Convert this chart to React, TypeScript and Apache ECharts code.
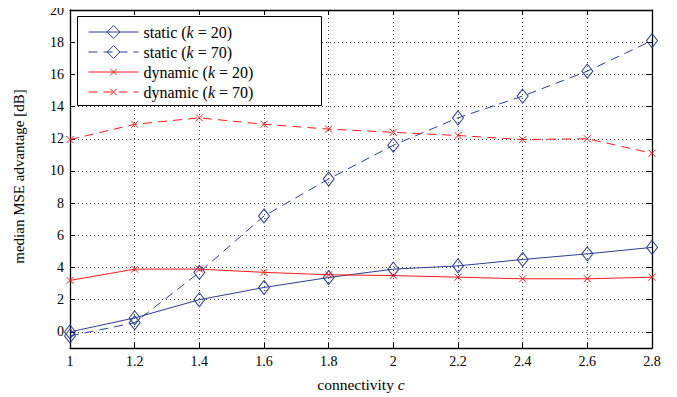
import React, { useEffect, useRef } from "react";
import * as echarts from "echarts";

const connectivity = [1, 1.2, 1.4, 1.6, 1.8, 2, 2.2, 2.4, 2.6, 2.8];
const static20 = [0.0, 0.87, 2.0, 2.76, 3.38, 3.9, 4.1, 4.5, 4.85, 5.25];
const static70 = [-0.25, 0.57, 3.7, 7.2, 9.5, 11.6, 13.3, 14.65, 16.2, 18.1];
const dynamic20 = [3.2, 3.9, 3.9, 3.7, 3.55, 3.5, 3.4, 3.3, 3.3, 3.4];
const dynamic70 = [11.95, 12.9, 13.3, 12.9, 12.6, 12.4, 12.2, 11.95, 12.0, 11.1];
const yTicks = [0, 2, 4, 6, 8, 10, 12, 14, 16, 18, 20];
const seriesNames = ["static (k = 20)", "static (k = 70)", "dynamic (k = 20)", "dynamic (k = 70)"];

const BLUE = "#2b3f96";
const RED = "#ff1a1a";
const FONT = "Liberation Serif";
const CROSS = "path://M-5,-5M15,15M0,0L10,10M10,0L0,10";

export default function App() {
  const ref = useRef<HTMLDivElement>(null);
  useEffect(() => {
    if (!ref.current) return;
    const chart = echarts.init(ref.current, null, { renderer: "svg" });
    const pts = (ys: number[]) => connectivity.map((x, i) => [x, ys[i]]);
    const diamond = {
      symbol: "diamond",
      symbolSize: [11, 14],
      itemStyle: { color: "rgba(0,0,0,0)", borderColor: BLUE, borderWidth: 1 },
    };
    const cross = {
      symbol: CROSS,
      symbolSize: 14,
      itemStyle: { color: "rgba(0,0,0,0)", borderColor: RED, borderWidth: 1 },
    };
    const dash = [9, 6];
    const axisLine = { show: true, onZero: false, lineStyle: { color: "#000", width: 1.3 } };
    const gridLine = { show: true, lineStyle: { color: "#444", type: [1, 3], width: 1 } };
    const rich = (size: number) => ({
      a: { fontFamily: FONT, fontSize: size, color: "#000", lineHeight: 16 },
      e: { fontFamily: FONT, fontSize: size, color: "#000", lineHeight: 16, padding: [0, 4, 0, 4] },
      i: { fontFamily: FONT, fontSize: size, color: "#000", fontStyle: "italic", lineHeight: 16 },
    });
    chart.setOption({
      animation: false,
      backgroundColor: "#fff",
      textStyle: { fontFamily: FONT },
      grid: { left: 70, right: 25, top: 10, bottom: 46, containLabel: false },
      graphic: [
        {
          type: "rect",
          left: 77,
          top: 16,
          z: 3,
          shape: { width: 244, height: 89 },
          style: { fill: "#fff", stroke: "#000", lineWidth: 1 },
        },
      ],
      legend: {
        orient: "vertical",
        left: 77,
        top: 16,
        z: 5,
        itemWidth: 50,
        itemHeight: 16,
        itemGap: 4,
        padding: [8, 10, 5, 11],
        data: seriesNames,
        lineStyle: { width: 1 },
        itemStyle: { borderWidth: 1 },
        formatter: (name: string) => {
          const m = name.match(/^(.*)\(k = (\d+)\)$/);
          if (!m) return name;
          return `{a|${m[1]}(}{i|k}{e|=}{a|${m[2]})}`;
        },
        textStyle: { fontFamily: FONT, fontSize: 16, color: "#000", rich: rich(16) },
      },
      xAxis: [
        {
          type: "value",
          min: 1,
          max: 2.8,
          interval: 0.2,
          position: "bottom",
          name: "{a|connectivity }{i|c}",
          nameLocation: "middle",
          nameGap: 28,
          nameTextStyle: { rich: rich(15.5) },
          axisLine,
          axisTick: { show: true, inside: true, length: 5, lineStyle: { color: "#000" } },
          axisLabel: {
            show: true,
            margin: 6,
            fontFamily: FONT,
            fontSize: 14,
            color: "#000",
            formatter: (v: number) => String(Math.round(v * 10) / 10),
          },
          splitLine: gridLine,
        },
        {
          type: "value",
          min: 1,
          max: 2.8,
          interval: 0.2,
          position: "top",
          axisLine,
          axisTick: { show: true, inside: true, length: 5, lineStyle: { color: "#000" } },
          axisLabel: { show: false },
          splitLine: { show: false },
        },
      ],
      yAxis: [
        {
          type: "value",
          min: -1,
          max: 20,
          position: "left",
          name: "median MSE advantage [dB]",
          nameLocation: "middle",
          nameGap: 44,
          nameTextStyle: { fontFamily: FONT, fontSize: 15, color: "#000", padding: [0, 0, 0, 5] },
          axisLine,
          axisTick: { show: true, inside: true, length: 5, customValues: yTicks, lineStyle: { color: "#000" } },
          axisLabel: { show: true, margin: 6, fontFamily: FONT, fontSize: 14, color: "#000", customValues: yTicks },
          splitLine: gridLine,
        },
        {
          type: "value",
          min: -1,
          max: 20,
          position: "right",
          axisLine,
          axisTick: { show: true, inside: true, length: 5, customValues: yTicks, lineStyle: { color: "#000" } },
          axisLabel: { show: false },
          splitLine: { show: false },
        },
      ],
      series: [
        { name: seriesNames[0], type: "line", data: pts(static20), ...diamond, lineStyle: { color: BLUE, width: 1 }, color: BLUE },
        { name: seriesNames[1], type: "line", data: pts(static70), ...diamond, lineStyle: { color: BLUE, width: 1, type: dash }, color: BLUE },
        { name: seriesNames[2], type: "line", data: pts(dynamic20), ...cross, lineStyle: { color: RED, width: 1 }, color: RED },
        { name: seriesNames[3], type: "line", data: pts(dynamic70), ...cross, lineStyle: { color: RED, width: 1, type: dash }, color: RED },
      ],
    });
    return () => chart.dispose();
  }, []);
  return <div ref={ref} style={{ width: 677, height: 397, marginLeft: -8, marginTop: -8 }} />;
}
